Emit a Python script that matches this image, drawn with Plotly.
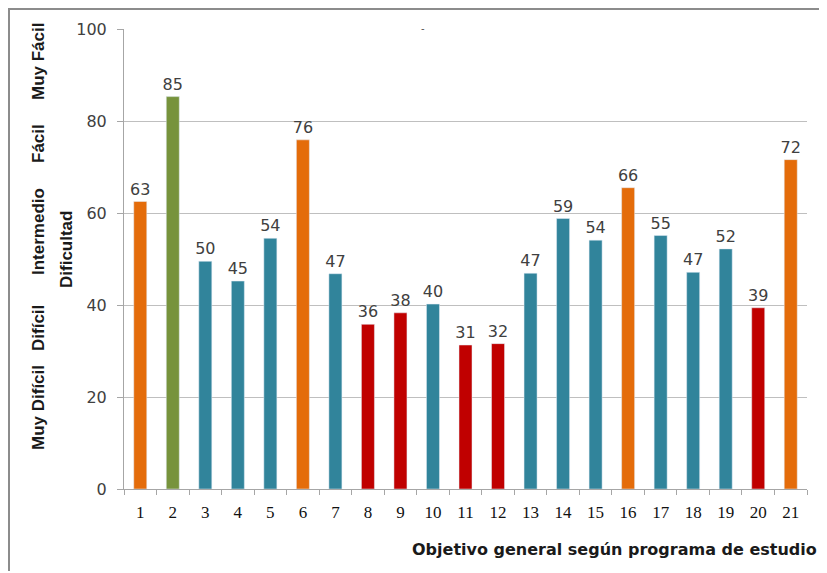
import plotly.graph_objects as go

categories = [str(i) for i in range(1, 22)]
values = [62.5, 85.3, 49.5, 45.2, 54.5, 75.9, 46.8, 35.8, 38.3, 40.2, 31.3,
          31.6, 46.9, 58.8, 54.1, 65.5, 55.1, 47.1, 52.2, 39.4, 71.6]
labels = ["63", "85", "50", "45", "54", "76", "47", "36", "38", "40", "31",
          "32", "47", "59", "54", "66", "55", "47", "52", "39", "72"]
band_names = ["Muy Difícil", "Difícil", "Intermedio", "Fácil", "Muy Fácil"]
y_ticks = [0, 20, 40, 60, 80, 100]


def color_for(v):
    if v >= 80:
        return "#77933C"
    if v >= 60:
        return "#E46C0A"
    if v >= 40:
        return "#31849B"
    return "#C00000"


colors = [color_for(v) for v in values]

fig = go.Figure(go.Bar(
    x=categories, y=values, marker_color=colors, width=0.4,
    text=labels, textposition="outside", cliponaxis=False,
    constraintext="none",
    textfont=dict(family="DejaVu Sans", size=16, color="#404040"),
))

W, H = 827, 573
OFF = 8  # page offset of the figure
ml, mr, mt, mb = 124 - OFF, 28, 29 - OFF, H - (489 - OFF)
pw, ph = W - ml - mr, H - mt - mb


def px_x(x):
    return (x - OFF - ml) / pw


def px_y(y):
    return (H - mb - (y - OFF)) / ph


fig.update_layout(
    width=W, height=H, margin=dict(l=ml, r=mr, t=mt, b=mb),
    paper_bgcolor="white", plot_bgcolor="white", showlegend=False,
    xaxis=dict(
        type="category", tickson="boundaries", ticks="outside", ticklen=5,
        tickcolor="#A6A6A6", showline=True, linecolor="#A6A6A6", linewidth=1,
        showgrid=False, ticklabelstandoff=8,
        tickfont=dict(family="Liberation Serif", size=17, color="#111111"),
    ),
    yaxis=dict(
        range=[0, 100], tickvals=y_ticks, ticks="outside", ticklen=6,
        tickcolor="#A6A6A6", showline=True, linecolor="#A6A6A6", linewidth=1,
        gridcolor="#BFBFBF", gridwidth=1, zeroline=False, ticklabelstandoff=7,
        tickfont=dict(family="DejaVu Sans", size=16, color="#404040"),
    ),
    bargap=0.6,
)

# frame lines
fig.add_shape(type="line", xref="paper", yref="paper",
              x0=px_x(OFF), x1=px_x(W + OFF), y0=px_y(OFF + 1), y1=px_y(OFF + 1),
              line=dict(color="#8C8C8C", width=2))
fig.add_shape(type="line", xref="paper", yref="paper",
              x0=px_x(OFF + 1), x1=px_x(OFF + 1), y0=px_y(OFF + 1), y1=px_y(571),
              line=dict(color="#8C8C8C", width=2))

# y-axis category labels
band_y = [408, 328, 232, 144, 62]
band_font = dict(family="Liberation Sans Narrow, Liberation Sans", size=17, color="#1A1A1A")
for name, yy in zip(band_names, band_y):
    fig.add_annotation(text="<b>" + name + "</b>", xref="paper", yref="paper",
                       x=px_x(38), y=px_y(yy), showarrow=False, textangle=-90,
                       font=band_font, xanchor="center", yanchor="middle")
fig.add_annotation(text="<b>Dificultad</b>", xref="paper", yref="paper",
                   x=px_x(66), y=px_y(250), showarrow=False, textangle=-90,
                   font=band_font, xanchor="center", yanchor="middle")

# x-axis title
fig.add_annotation(text="<b>Objetivo general según programa de estudio</b>",
                   xref="paper", yref="paper", x=px_x(819), y=px_y(549),
                   showarrow=False, xanchor="right", yanchor="middle",
                   font=dict(family="DejaVu Sans", size=16, color="#1A1A1A"))

# small chart title mark
fig.add_annotation(text="-", xref="paper", yref="paper", x=px_x(423), y=px_y(21),
                   showarrow=False, font=dict(family="DejaVu Sans", size=10, color="#555555"))

fig.write_html("out.html")
